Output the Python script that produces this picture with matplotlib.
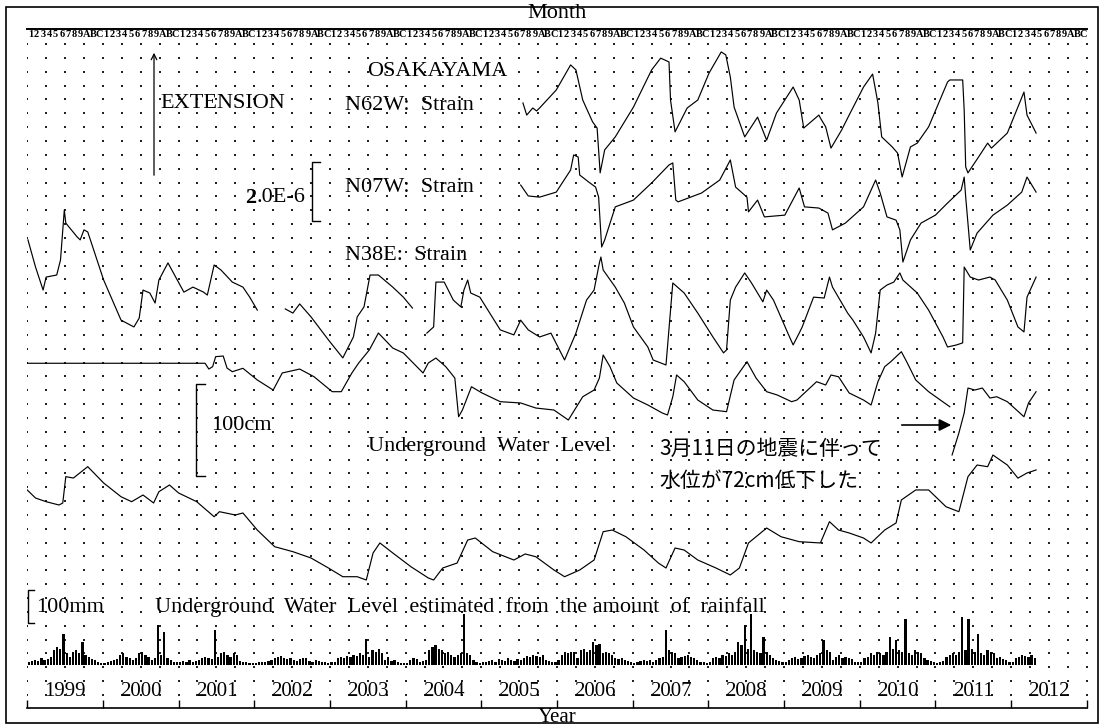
import numpy as np
import matplotlib.pyplot as plt
from matplotlib.patches import Rectangle

plt.rcParams["font.family"] = ["Liberation Serif", "DejaVu Serif"]

W, H = 1104, 727

# ---- data --------------------------------------------------------------
years = list(range(1999, 2013))
month_chars = list("123456789ABC")

# strain traces, unit 1e-6 (relative level of each trace)
n62w_t = [2005.55, 2005.60, 2005.68, 2005.73, 2005.77, 2005.99, 2006.18, 2006.25, 2006.34, 2006.47,
          2006.53, 2006.57, 2006.63, 2006.77, 2007.01, 2007.25, 2007.37, 2007.48, 2007.50, 2007.56,
          2007.72, 2007.86, 2008.01, 2008.17, 2008.23, 2008.29, 2008.34, 2008.48, 2008.65, 2008.77,
          2008.90, 2009.12, 2009.20, 2009.26, 2009.46, 2009.48, 2009.55, 2009.62, 2009.76, 2009.86,
          2010.05, 2010.17, 2010.24, 2010.29, 2010.43, 2010.50, 2010.56, 2010.67, 2010.76, 2010.91,
          2011.16, 2011.19, 2011.36, 2011.38, 2011.40, 2011.43, 2011.57, 2011.69, 2011.74, 2011.95,
          2012.17, 2012.21, 2012.33]
n62w_v = [2.95, 2.54, 2.78, 2.68, 2.78, 3.39, 4.24, 4.07, 3.05, 2.31,
          2.10, 0.58, 1.36, 1.80, 2.81, 4.07, 4.47, 4.34, 3.05, 1.97,
          2.78, 3.05, 3.97, 4.68, 4.58, 3.83, 2.81, 1.80, 2.47, 1.69,
          2.61, 3.49, 3.05, 2.10, 2.54, 2.44, 2.14, 1.42, 2.03, 2.54,
          3.49, 3.93, 2.95, 1.80, 1.46, 1.25, 0.44, 1.46, 1.59, 2.14,
          3.66, 3.73, 3.73, 2.71, 0.78, 0.58, 1.12, 1.59, 1.42, 1.93,
          3.32, 2.54, 1.93]

n07w_t = [2005.52, 2005.62, 2005.77, 2005.99, 2006.18, 2006.22, 2006.28, 2006.30, 2006.42, 2006.51,
          2006.55, 2006.59, 2006.63, 2006.77, 2007.01, 2007.25, 2007.48, 2007.53, 2007.57, 2007.60,
          2007.91, 2008.15, 2008.27, 2008.29, 2008.36, 2008.51, 2008.53, 2008.65, 2008.74, 2009.01,
          2009.20, 2009.27, 2009.46, 2009.58, 2009.64, 2009.81, 2010.05, 2010.21, 2010.27, 2010.36,
          2010.48, 2010.53, 2010.57, 2010.67, 2010.81, 2011.00, 2011.16, 2011.34, 2011.38, 2011.40,
          2011.46, 2011.55, 2011.76, 2011.95, 2012.14, 2012.21, 2012.33]
n07w_v = [2.88, 2.51, 2.47, 2.64, 3.39, 3.90, 3.83, 3.22, 2.98, 2.81,
          2.47, 0.78, 1.02, 2.14, 2.37, 2.95, 3.56, 3.63, 2.37, 2.31,
          2.61, 3.05, 3.63, 3.73, 2.81, 2.47, 1.97, 2.37, 1.80, 1.86,
          2.78, 2.14, 2.10, 1.93, 1.36, 1.59, 2.14, 3.05, 2.61, 1.80,
          1.69, 1.36, 0.27, 1.02, 1.59, 1.86, 2.27, 2.71, 3.15, 2.47,
          0.68, 1.25, 1.86, 2.20, 2.64, 3.15, 2.64]

# N38E comes in three pieces (gaps in the record)
n38e_t1 = [1999.01, 1999.11, 1999.21, 1999.25, 1999.39, 1999.44, 1999.49, 1999.51, 1999.66, 1999.70,
           1999.75, 1999.80, 2000.01, 2000.24, 2000.41, 2000.48, 2000.53, 2000.62, 2000.69, 2000.74,
           2000.86, 2001.07, 2001.19, 2001.33, 2001.38, 2001.47, 2001.56, 2001.71, 2001.85, 2001.94,
           2002.04]
n38e_v1 = [4.41, 3.49, 2.71, 3.15, 3.22, 3.73, 5.42, 4.98, 4.51, 4.41,
           4.75, 4.68, 3.05, 1.69, 1.46, 1.76, 2.71, 2.61, 2.27, 3.05,
           3.63, 2.64, 2.81, 2.64, 2.54, 3.56, 3.39, 2.98, 2.81, 2.47,
           2.03]
n38e_t2 = [2002.41, 2002.51, 2002.60, 2002.75, 2002.98, 2003.17, 2003.31, 2003.36, 2003.45, 2003.53,
           2003.64, 2003.83, 2003.97, 2004.09]
n38e_v2 = [2.07, 1.93, 2.24, 1.80, 1.02, 0.41, 1.12, 1.80, 2.14, 3.22,
           3.22, 2.81, 2.47, 2.10]
n38e_t3 = [2004.28, 2004.37, 2004.40, 2004.51, 2004.63, 2004.73, 2004.77, 2004.82, 2004.86, 2004.98,
           2005.25, 2005.43, 2005.52, 2005.62, 2005.77, 2005.92, 2006.10, 2006.25, 2006.39, 2006.49,
           2006.56, 2006.58, 2006.61, 2006.77, 2006.89, 2007.01, 2007.20, 2007.27, 2007.44, 2007.53,
           2007.68, 2007.86, 2008.06, 2008.20, 2008.24, 2008.29, 2008.36, 2008.48, 2008.57, 2008.72,
           2008.77, 2008.86, 2009.05, 2009.12, 2009.20, 2009.24, 2009.39, 2009.53, 2009.60, 2009.64,
           2009.84, 2009.91, 2010.05, 2010.15, 2010.21, 2010.27, 2010.36, 2010.45, 2010.53, 2010.57,
           2010.76, 2010.91, 2011.10, 2011.16, 2011.28, 2011.36, 2011.38, 2011.46, 2011.57, 2011.72,
           2011.79, 2011.95, 2012.09, 2012.17, 2012.21, 2012.33]
n38e_v3 = [1.25, 1.46, 2.98, 2.98, 2.37, 2.14, 2.71, 3.05, 2.61, 2.47,
           1.36, 1.19, 1.69, 1.36, 1.12, 1.25, 0.34, 1.25, 2.37, 2.71,
           3.63, 3.83, 3.39, 2.81, 2.27, 1.46, 0.78, 0.34, 0.17, 2.95,
           2.61, 1.93, 1.12, 0.58, 0.68, 2.37, 2.81, 3.29, 2.95, 2.31,
           2.71, 2.37, 1.25, 0.85, 1.25, 1.46, 2.47, 2.44, 3.15, 2.81,
           1.93, 1.69, 1.12, 0.58, 1.25, 2.71, 2.88, 2.98, 3.29, 3.05,
           2.61, 2.03, 1.12, 0.78, 0.85, 0.92, 3.49, 3.15, 3.05, 3.15,
           3.05, 2.37, 1.46, 1.29, 2.47, 3.15]

# underground water level, cm (before / after 2011-03-11)
wl_t1 = [1999.00, 2001.35, 2001.40, 2001.45, 2001.49, 2001.59, 2001.64, 2001.71, 2001.85, 2002.04,
         2002.25, 2002.37, 2002.60, 2002.79, 2003.03, 2003.15, 2003.29, 2003.38, 2003.52, 2003.64,
         2003.83, 2003.97, 2004.23, 2004.30, 2004.40, 2004.53, 2004.65, 2004.70, 2004.75, 2004.87,
         2005.01, 2005.25, 2005.52, 2005.72, 2005.96, 2006.15, 2006.34, 2006.49, 2006.56, 2006.61,
         2006.70, 2006.79, 2007.01, 2007.20, 2007.39, 2007.46, 2007.53, 2007.58, 2007.68, 2007.86,
         2008.06, 2008.24, 2008.34, 2008.51, 2008.63, 2008.77, 2008.91, 2009.10, 2009.17, 2009.43,
         2009.55, 2009.62, 2009.72, 2009.86, 2010.05, 2010.15, 2010.24, 2010.33, 2010.41, 2010.55,
         2010.62, 2010.74, 2010.91, 2011.19]
wl_v1 = [127.3, 127.3, 121.0, 123.6, 134.5, 135.2, 122.1, 118.1, 121.8, 109.1,
         98.1, 116.7, 121.0, 112.6, 96.3, 96.3, 116.7, 127.6, 141.8, 160.3,
         143.9, 138.5, 116.7, 127.6, 133.0, 123.6, 111.2, 69.0, 76.3, 101.7,
         94.9, 85.4, 84.0, 78.5, 76.3, 65.4, 90.8, 98.1, 111.2, 136.3,
         123.6, 105.8, 89.4, 81.8, 73.1, 70.9, 90.8, 114.5, 107.2, 87.2,
         76.3, 74.5, 109.1, 129.0, 111.2, 96.3, 92.7, 85.4, 87.2, 107.2,
         103.6, 114.5, 112.6, 94.9, 87.2, 81.8, 107.2, 123.6, 129.0, 139.9,
         129.0, 109.1, 96.3, 79.9]
wl_t2 = [2011.22, 2011.31, 2011.38, 2011.43, 2011.52, 2011.62, 2011.72, 2011.81, 2011.95, 2012.17,
         2012.23, 2012.33]
wl_v2 = [27.3, 51.3, 73.1, 100.3, 98.1, 100.3, 89.4, 90.8, 85.4, 69.0,
         84.0, 96.3]

# water level estimated from rainfall, cm
est_t = [1999.00, 1999.11, 1999.25, 1999.42, 1999.47, 1999.51, 1999.61, 1999.80, 2000.01, 2000.24,
         2000.38, 2000.53, 2000.67, 2000.74, 2000.88, 2001.00, 2001.24, 2001.47, 2001.54, 2001.75,
         2001.85, 2002.04, 2002.27, 2002.51, 2002.75, 2002.98, 2003.17, 2003.36, 2003.48, 2003.57,
         2003.66, 2003.83, 2004.07, 2004.30, 2004.37, 2004.49, 2004.68, 2004.82, 2004.92, 2005.15,
         2005.43, 2005.58, 2005.72, 2005.96, 2006.10, 2006.30, 2006.49, 2006.61, 2006.73, 2006.91,
         2007.15, 2007.34, 2007.44, 2007.56, 2007.68, 2007.86, 2008.10, 2008.29, 2008.41, 2008.53,
         2008.77, 2008.96, 2009.20, 2009.48, 2009.60, 2009.72, 2009.86, 2010.05, 2010.15, 2010.33,
         2010.48, 2010.55, 2010.74, 2010.91, 2011.14, 2011.31, 2011.43, 2011.55, 2011.69, 2011.76,
         2011.95, 2012.09, 2012.21, 2012.33]
est_v = [120.0, 111.2, 107.2, 103.6, 105.8, 134.5, 133.0, 145.4, 127.6, 112.6,
         107.2, 114.5, 105.8, 118.1, 125.4, 116.7, 107.2, 90.8, 96.3, 92.7,
         94.9, 76.3, 58.1, 52.7, 45.8, 34.9, 25.4, 25.4, 21.8, 51.3,
         62.2, 51.3, 36.3, 24.0, 21.8, 34.9, 40.3, 65.4, 67.6, 52.7,
         43.6, 50.2, 47.2, 32.7, 25.4, 32.7, 43.6, 74.5, 76.3, 69.0,
         54.5, 40.3, 34.9, 56.7, 54.5, 43.6, 34.9, 27.3, 34.9, 62.2,
         78.5, 69.0, 63.6, 62.2, 85.4, 76.3, 73.1, 67.6, 62.2, 76.3,
         84.0, 109.1, 120.0, 120.0, 101.7, 96.3, 134.5, 147.2, 145.4, 158.1,
         147.2, 132.9, 138.5, 141.8]

# rainfall, mm per half month, one row per year (2012 ends in April)
rain_mm = [
    [10, 12, 15, 12, 20, 15, 18, 25, 45, 55, 50, 95, 35, 25, 40, 45, 35, 70, 30, 25, 18, 15, 10, 5],
    [5, 8, 12, 15, 18, 30, 35, 25, 20, 15, 20, 35, 40, 30, 25, 15, 20, 120, 30, 100, 20, 15, 10, 8],
    [10, 12, 8, 15, 10, 12, 15, 22, 25, 20, 18, 105, 25, 35, 40, 30, 25, 35, 30, 12, 10, 8, 6, 5],
    [5, 8, 10, 8, 12, 15, 20, 25, 28, 22, 18, 20, 15, 12, 18, 22, 20, 12, 10, 15, 12, 10, 8, 6],
    [8, 10, 20, 25, 22, 28, 25, 30, 28, 35, 30, 80, 25, 45, 40, 50, 35, 15, 25, 12, 15, 8, 6, 5],
    [6, 15, 20, 18, 10, 12, 15, 45, 55, 60, 50, 45, 35, 40, 30, 25, 30, 35, 155, 35, 30, 15, 8, 5],
    [8, 10, 12, 15, 10, 18, 15, 12, 20, 15, 12, 18, 15, 20, 28, 25, 30, 28, 25, 30, 15, 12, 8, 10],
    [15, 30, 40, 35, 40, 38, 20, 45, 50, 40, 45, 70, 60, 65, 35, 40, 35, 30, 20, 18, 20, 15, 12, 10],
    [5, 8, 12, 15, 12, 15, 10, 15, 20, 25, 105, 45, 40, 35, 20, 25, 28, 30, 25, 22, 15, 10, 8, 6],
    [10, 20, 25, 22, 30, 28, 35, 30, 40, 70, 60, 120, 50, 155, 45, 40, 35, 85, 40, 30, 20, 15, 12, 10],
    [8, 15, 20, 25, 18, 22, 28, 30, 25, 20, 30, 35, 75, 45, 40, 15, 25, 30, 20, 25, 22, 18, 10, 8],
    [10, 20, 25, 35, 30, 40, 35, 30, 40, 85, 50, 75, 45, 40, 140, 35, 30, 45, 40, 35, 20, 15, 12, 10],
    [5, 8, 12, 25, 30, 35, 30, 40, 145, 45, 140, 50, 40, 95, 35, 30, 45, 40, 35, 20, 25, 18, 15, 10],
    [10, 20, 25, 30, 28, 25, 30, 22],
]

# ---- drawing scales (pixels per unit) and trace baselines --------------
STRAIN_PX = 29.5   # px per 1e-6
WL_PX = 0.917      # px per cm
RAIN_PX = 0.33     # px per mm
BASE_N62W, BASE_N07W, BASE_N38E = 190, 270, 370
BASE_WL, BASE_EST, BASE_RAIN = 480, 600, 665
TOP, BOTTOM = 29, 708
X0, X1 = 27.2, 1086.8

fig = plt.figure(figsize=(W / 100, H / 100), dpi=100)
ax = fig.add_axes([X0 / W, (H - BOTTOM) / H, (X1 - X0) / W, (BOTTOM - TOP) / H])
ax.set_xlim(1999, 2013)
ax.set_ylim(BOTTOM, TOP)
ax.patch.set_alpha(0)
for side in ["left", "right"]:
    ax.spines[side].set_visible(False)
ax.spines["bottom"].set_linewidth(1.2)
ax.spines["top"].set_linewidth(1.4)
ax.set_yticks([])
ax.set_xticks(np.arange(1999, 2014))
ax.tick_params(axis="x", direction="in", length=6, width=1, labelbottom=False)

# dot grid: quarter-year columns
gx, gy = np.meshgrid(np.arange(1999, 2013.01, 0.25), np.arange(44, 700, 13.85))
ax.scatter(gx.ravel(), gy.ravel(), s=1.0, marker="s", c="#222222", lw=0, zorder=1)

line_kw = dict(color="black", lw=0.85, zorder=3)
ax.plot(n62w_t, BASE_N62W - np.array(n62w_v) * STRAIN_PX, **line_kw)
ax.plot(n07w_t, BASE_N07W - np.array(n07w_v) * STRAIN_PX, **line_kw)
for tt, vv in [(n38e_t1, n38e_v1), (n38e_t2, n38e_v2), (n38e_t3, n38e_v3)]:
    ax.plot(tt, BASE_N38E - np.array(vv) * STRAIN_PX, **line_kw)
ax.plot(wl_t1, BASE_WL - np.array(wl_v1) * WL_PX, **line_kw)
ax.plot(wl_t2, BASE_WL - np.array(wl_v2) * WL_PX, **line_kw)
ax.plot(est_t, BASE_EST - np.array(est_v) * WL_PX, **line_kw)

for yr, row in zip(years, rain_mm):
    tt = yr + (np.arange(len(row)) + 0.5) / 24
    ax.bar(tt, -np.array(row) * RAIN_PX, bottom=BASE_RAIN, width=1 / 34,
           color="black", lw=0, zorder=3)

# year and month labels
for yr in years:
    ax.text(yr + 0.5, 692, str(yr), ha="center", va="center", fontsize=15)
    for m, ch in enumerate(month_chars):
        ax.text(yr + (m + 0.5) / 12, 34.5, ch, ha="center", va="center",
                fontsize=7.5, fontweight="bold")

# ---- annotation layer in pixel coordinates ------------------------------
ann = fig.add_axes([0, 0, 1, 1])
ann.set_xlim(0, W)
ann.set_ylim(H, 0)
ann.axis("off")
ann.patch.set_alpha(0)
ann.add_patch(Rectangle((6, 7), 1092, 716, fill=False, lw=1.2, color="black"))

ann.text(557, 14, "Month", ha="center", va="center", fontsize=16)
ann.text(557, 718, "Year", ha="center", va="center", fontsize=15)
ann.text(367, 72, "OSAKAYAMA", ha="left", va="center", fontsize=16)
ann.text(160, 104, "EXTENSION", ha="left", va="center", fontsize=16)
ann.annotate("", xy=(154, 50), xytext=(154, 178),
             arrowprops=dict(arrowstyle="->", lw=0.9, color="black", mutation_scale=10))
ann.text(345, 106, "N62W:  Strain", ha="left", va="center", fontsize=16)
ann.text(345, 187, "N07W:  Strain", ha="left", va="center", fontsize=16)
ann.text(345, 256, "N38E:  Strain", ha="left", va="center", fontsize=16)

# scale bars
def bracket(x, y0, length, tick):
    ann.plot([x + tick, x, x, x + tick], [y0, y0, y0 + length, y0 + length],
             color="black", lw=1.0)

bracket(312, 162, 2.0 * STRAIN_PX, 8)
rest = ann.text(305, 198, ".0E-6", ha="right", va="center", fontsize=16)
fig.canvas.draw()
x_left = ann.transData.inverted().transform(
    (rest.get_window_extent().x0, 0))[0]
ann.text(x_left, 198, "2", ha="right", va="center", fontsize=16, fontweight="bold")

bracket(196, 384, 100 * WL_PX, 9)
ann.text(211, 425, "100cm", ha="left", va="center", fontsize=16)
bracket(28, 590, 100 * RAIN_PX, 6)
ann.text(36, 607, "100mm", ha="left", va="center", fontsize=16)

ann.text(368, 446, "Underground  Water  Level", ha="left", va="center", fontsize=16)
ann.text(155, 607, "Underground  Water  Level  estimated  from  the amount  of  rainfall",
         ha="left", va="center", fontsize=16)

jp = ["Noto Sans CJK JP", "DejaVu Sans"]
ann.text(659, 449, "3月11日の地震に伴って", ha="left", va="center", fontsize=15, family=jp)
ann.text(659, 481, "水位が72cm低下した", ha="left", va="center", fontsize=15, family=jp)
ann.annotate("", xy=(954, 425), xytext=(899, 425),
             arrowprops=dict(arrowstyle="-|>", lw=1.2, color="black", mutation_scale=18))

fig.savefig("out.png", dpi=100, facecolor="white")
